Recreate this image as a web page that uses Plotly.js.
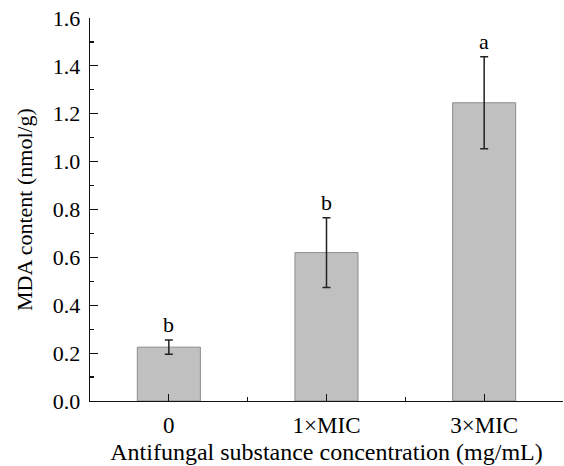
<!DOCTYPE html>
<html>
<head>
<meta charset="utf-8">
<script src="https://cdn.plot.ly/plotly-3.0.1.min.js"></script>
<style>html,body{margin:0;padding:0;background:#fff}#chart{width:564px;height:466px}</style>
</head>
<body>
<div id="chart"></div>
<script>
const categories = ["0", "1×MIC", "3×MIC"];
const mdaValues = [0.225, 0.620, 1.246];
const mdaErrors = [0.030, 0.146, 0.192];
const sigLetters = ["b", "b", "a"];

const xIdx = categories.map((c, i) => i);
const FONT = "Liberation Serif, Times New Roman, serif";

const trace = {
  type: "bar",
  x: xIdx,
  y: mdaValues,
  width: 0.4,
  marker: {color: "#c0c0c0", line: {color: "#8c8c8c", width: 1}},
  error_y: {type: "data", array: mdaErrors, visible: true, color: "#222222", thickness: 1.5, width: 4}
};

const annotations = xIdx.map((x, i) => ({
  x: x, y: mdaValues[i] + mdaErrors[i], xref: "x", yref: "y",
  text: sigLetters[i], showarrow: false, yanchor: "bottom", yshift: 1,
  font: {family: FONT, size: 22, color: "#000"}
}));

const layout = {
  width: 564, height: 466,
  margin: {l: 90, r: 1, t: 18, b: 65},
  paper_bgcolor: "#fff", plot_bgcolor: "#fff",
  showlegend: false,
  font: {family: FONT, size: 22, color: "#000"},
  xaxis: {
    range: [-0.5, 2.5], tickmode: "array", tickvals: xIdx, ticktext: categories,
    showgrid: false, zeroline: false, showline: true, linecolor: "#111", linewidth: 1.3,
    ticks: "inside", ticklen: 7, tickwidth: 1.2, tickcolor: "#111",
    minor: {dtick: 0.5, tick0: 0.5, ticks: "inside", ticklen: 4, tickwidth: 1.2, tickcolor: "#111", showgrid: false},
    ticklabelstandoff: 3,
    tickfont: {family: FONT, size: 23, color: "#000"},
    title: {text: "Antifungal substance concentration (mg/mL)", font: {family: FONT, size: 24, color: "#000"}, standoff: 6}
  },
  yaxis: {
    range: [0, 1.6], dtick: 0.2, tick0: 0, tickformat: ".1f",
    showgrid: false, zeroline: false, showline: true, linecolor: "#111", linewidth: 1.3,
    ticks: "inside", ticklen: 8, tickwidth: 1.2, tickcolor: "#111",
    minor: {dtick: 0.1, ticks: "inside", ticklen: 4, tickwidth: 1.2, tickcolor: "#111", showgrid: false},
    ticklabelstandoff: 4,
    tickfont: {family: FONT, size: 22, color: "#000"},
    title: {text: "MDA content (nmol/g)", font: {family: FONT, size: 22, color: "#000"}, standoff: 14}
  },
  annotations: annotations
};

Plotly.newPlot("chart", [trace], layout, {displayModeBar: false, staticPlot: true});
</script>
</body>
</html>
